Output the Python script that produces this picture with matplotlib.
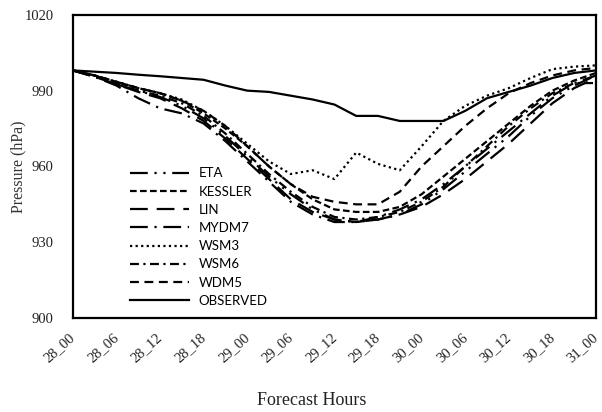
import numpy as np
import matplotlib
matplotlib.use("Agg")
import matplotlib.pyplot as plt

# ─── Data (3-hourly forecast steps, 28_00 .. 31_00) ─────────────────────────
hours = ["28_00", "28_03", "28_06", "28_09", "28_12", "28_15", "28_18", "28_21",
         "29_00", "29_03", "29_06", "29_09", "29_12", "29_15", "29_18", "29_21",
         "30_00", "30_03", "30_06", "30_09", "30_12", "30_15", "30_18", "30_21",
         "31_00"]

eta = [998, 995.5, 992.5, 990, 987.5, 984, 979, 972, 964, 956, 949, 943, 939,
       938, 939, 941, 945, 951, 958, 965, 972, 980, 987, 992, 996]
kessler = [998, 996, 993.5, 991, 989, 986, 981, 975, 968, 960, 953, 947, 943,
           942, 942, 944, 949, 956, 963, 970, 977, 984, 990, 994, 997]
lin = [998, 995.5, 992.5, 989.5, 987, 983, 978, 971, 963, 955, 947, 942, 939,
       938, 939, 941, 944, 949, 955, 962, 969, 977, 985, 991, 995]
mydm7 = [998, 995.5, 992, 987, 983, 981, 977, 970, 962, 954, 946, 941, 938,
         938, 940, 943, 947, 953, 960, 967, 974, 981, 988, 993, 996]
wsm3 = [998, 996, 993.5, 991, 989, 986.5, 982, 976, 969, 962, 957, 958.5, 955,
        965.5, 961, 958.5, 968, 978, 984, 988, 991, 995, 998.5, 999.5, 1000]
wsm6 = [998, 996, 993, 990, 988, 985, 980, 973, 965, 957, 950, 944, 940,
        939, 940, 942, 946, 952, 960, 968, 976, 983, 989, 993, 993]
wdm5 = [998, 996, 993.5, 991, 989, 986, 982, 976, 968, 960, 953, 948, 946,
        945, 945, 950, 960, 968, 976, 983, 989, 993, 996, 998, 999]
observed = [998, 997.5, 997, 996.3, 995.7, 995, 994.3, 992, 990, 989.5, 988,
            986.5, 984.5, 980, 980, 978, 978, 978, 982, 987, 989.5, 992, 995,
            997, 998]

series = [
    ("ETA", eta, (0, (8, 3, 1, 3, 1, 3))),
    ("KESSLER", kessler, (0, (3, 1.5))),
    ("LIN", lin, (0, (8, 4))),
    ("MYDM7", mydm7, (0, (8, 3, 1, 3))),
    ("WSM3", wsm3, (0, (1, 1.5))),
    ("WSM6", wsm6, (0, (4, 2, 1, 2))),
    ("WDM5", wdm5, (0, (4, 2.5))),
    ("OBSERVED", observed, "-"),
]

# ─── Plot ───────────────────────────────────────────────────────────────────
fig = plt.figure(figsize=(6.02, 4.12), dpi=100)
ax = fig.add_axes([0.121, 0.228, 0.869, 0.736])

x = np.arange(len(hours))
for name, vals, ls in series:
    ax.plot(x, vals, color="black", lw=1.6, linestyle=ls, label=name)

ax.set_xlim(0, len(hours) - 1)
ax.set_ylim(900, 1020)
ax.set_yticks([900, 930, 960, 990, 1020])
ax.set_xticks(x[::2])
ax.set_xticklabels([])
# rotated labels drawn by hand, nudged a little left so the last one fits
for xi, lab in zip(x[::2], hours[::2]):
    ax.annotate(lab, xy=(xi, 0), xycoords=("data", "axes fraction"),
                xytext=(-3, -9), textcoords="offset points", rotation=42,
                ha="right", va="top", rotation_mode="anchor",
                family="Liberation Serif", fontsize=10.5, color="#222",
                annotation_clip=False)
for lbl in ax.get_yticklabels():
    lbl.set_family("Liberation Serif")
    lbl.set_fontsize(10.5)
    lbl.set_color("#222")
ax.tick_params(axis="y", length=0, pad=14)
ax.tick_params(axis="x", length=0)

for sp in ax.spines.values():
    sp.set_linewidth(1.6)
    sp.set_color("black")

ax.set_ylabel("Pressure (hPa)", family="Liberation Serif", fontsize=11.5,
              color="#333")
ax.yaxis.set_label_coords(-0.088, 0.5)
fig.text(0.517, 0.029, "Forecast Hours", family="Liberation Serif",
         fontsize=13, ha="center", va="center", color="#222")

ax.legend(loc="upper left", bbox_to_anchor=(0.109, 0.497), frameon=False,
          borderpad=0, borderaxespad=0, handlelength=4.5, handletextpad=0.7,
          labelspacing=0.47, prop={"family": "Lato", "size": 9.5})

plt.savefig("out.png", dpi=100)
